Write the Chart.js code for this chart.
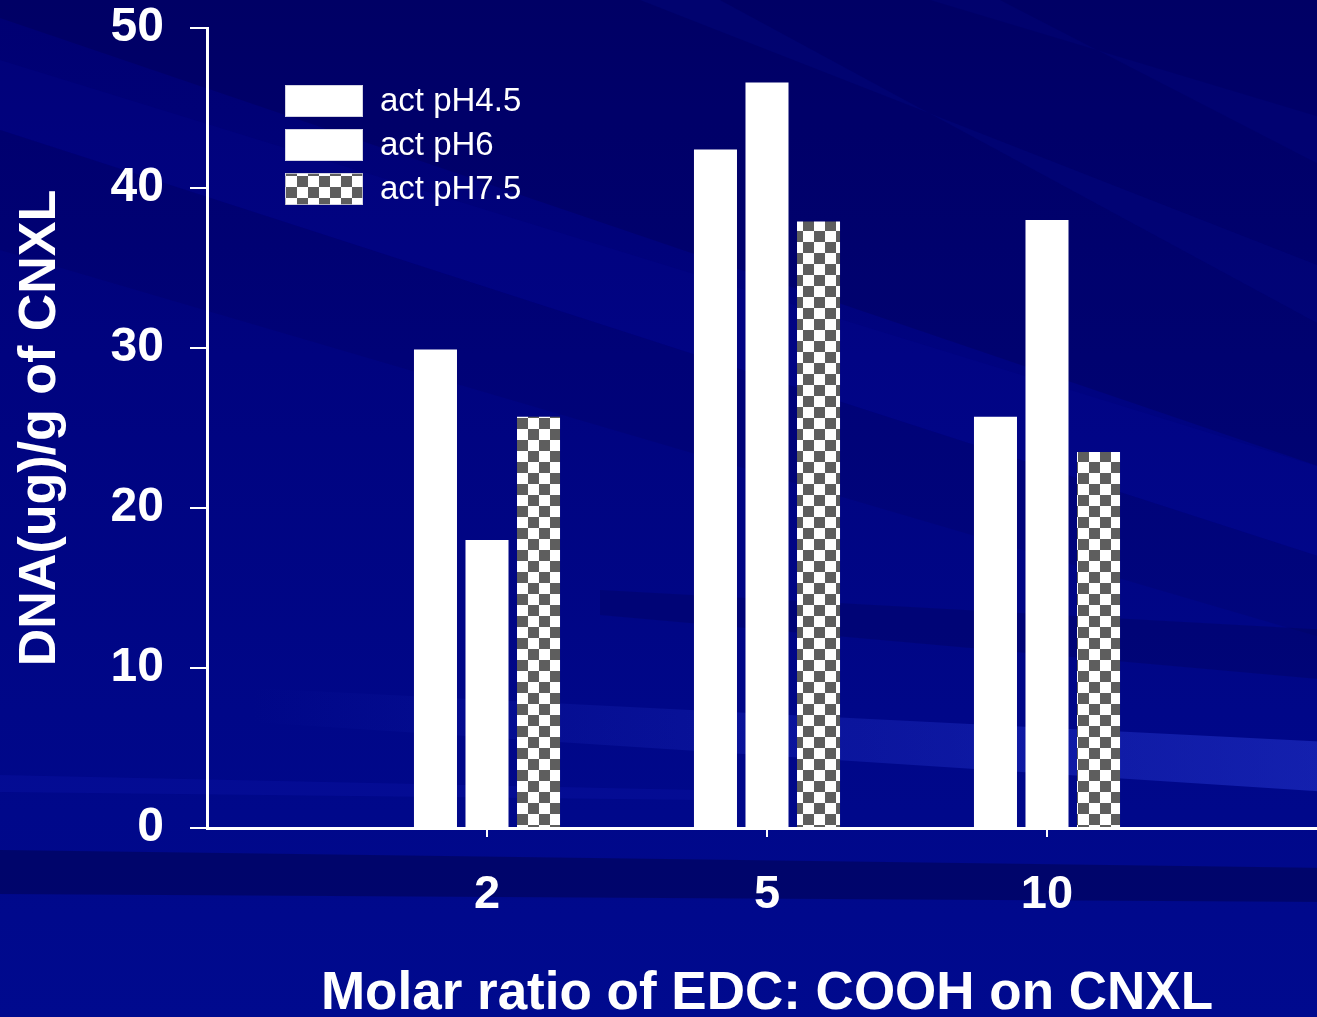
<!DOCTYPE html>
<html>
<head>
<meta charset="utf-8">
<script src="https://cdn.jsdelivr.net/npm/chart.js@4/dist/chart.umd.min.js"></script>
<style>
  html, body { margin: 0; padding: 0; overflow: hidden; background: #000080; }
  #myChart { display: block; }
</style>
</head>
<body>
<canvas id="myChart" width="1330" height="1017"></canvas>
<script>
// data
const categories = ["", "2", "5", "10", ""];
const seriesNames = ["act pH4.5", "act pH6", "act pH7.5"];
const ph45 = [null, 29.9, 42.4, 25.7, null];
const ph6 = [null, 18, 46.6, 38, null];
const ph75 = [null, 25.7, 37.9, 23.5, null];
const yTicks = [0, 10, 20, 30, 40, 50];

const FONT = "Arial, 'Liberation Sans', sans-serif";

function makeChecker() {
  const c = document.createElement("canvas");
  const s = 11;
  c.width = s * 2;
  c.height = s * 2;
  const g = c.getContext("2d");
  g.fillStyle = "#ffffff";
  g.fillRect(0, 0, s * 2, s * 2);
  g.fillStyle = "#5e5e5e";
  g.fillRect(s, 0, s, s);
  g.fillRect(0, s, s, s);
  return g.createPattern(c, "repeat");
}
const checker = makeChecker();

// streaky navy slide background
const backgroundPlugin = {
  id: "slideBg",
  beforeDraw(chart) {
    const c = chart.ctx;
    const w = chart.width, h = chart.height;
    c.save();
    const grad = c.createLinearGradient(0, 0, 0, h);
    grad.addColorStop(0, "#000072");
    grad.addColorStop(0.35, "#00037f");
    grad.addColorStop(0.7, "#000788");
    grad.addColorStop(1, "#000a8e");
    c.fillStyle = grad;
    c.fillRect(0, 0, w, h);

    const poly = (pts, fill) => {
      c.beginPath();
      c.moveTo(pts[0][0], pts[0][1]);
      for (let i = 1; i < pts.length; i++) c.lineTo(pts[i][0], pts[i][1]);
      c.closePath();
      c.fillStyle = fill;
      c.fill();
    };
    poly([[0, 0], [w, 0], [w, 470], [0, 18]], "rgba(0,0,40,0.16)");
    poly([[0, 60], [0, 130], [w, 560], [w, 470]], "rgba(10,20,170,0.12)");
    poly([[640, 0], [720, 0], [w, 330], [w, 270]], "rgba(10,20,170,0.15)");
    poly([[930, 0], [1000, 0], [w, 170], [w, 120]], "rgba(10,20,170,0.12)");
    poly([[0, 130], [0, 250], [w, 640], [w, 560]], "rgba(0,0,50,0.1)");
    poly([[600, 590], [w, 630], [w, 680], [600, 615]], "rgba(0,0,50,0.18)");
    const bright = c.createLinearGradient(250, 0, w, 0);
    bright.addColorStop(0, "rgba(50,70,230,0)");
    bright.addColorStop(1, "rgba(50,70,230,0.4)");
    poly([[250, 688], [w, 742], [w, 792], [250, 722]], bright);
    poly([[0, 775], [700, 790], [700, 800], [0, 792]], "rgba(20,30,190,0.2)");
    poly([[0, 850], [w, 868], [w, 902], [0, 894]], "rgba(0,0,50,0.35)");
    c.restore();
  }
};

// legend drawn inside the plot, top-left
const legendPlugin = {
  id: "insideLegend",
  afterDraw(chart) {
    const c = chart.ctx;
    const x = 285, y0 = 85, rowH = 44, bw = 78, bh = 32;
    c.save();
    chart.data.datasets.forEach((ds, i) => {
      const y = y0 + i * rowH;
      c.fillStyle = ds.backgroundColor;
      c.fillRect(x, y, bw, bh);
      c.strokeStyle = "rgba(200,200,220,0.8)";
      c.lineWidth = 1;
      c.strokeRect(x + 0.5, y + 0.5, bw - 1, bh - 1);
      c.fillStyle = "#ffffff";
      c.font = "33px " + FONT;
      c.textBaseline = "middle";
      c.fillText(ds.label, 380, y + bh / 2 + 1);
    });
    c.restore();
  }
};

new Chart(document.getElementById("myChart").getContext("2d"), {
  type: "bar",
  data: {
    labels: categories,
    datasets: [
      { label: seriesNames[0], data: ph45, backgroundColor: "#ffffff" },
      { label: seriesNames[1], data: ph6, backgroundColor: "#ffffff" },
      { label: seriesNames[2], data: ph75, backgroundColor: checker }
    ]
  },
  options: {
    responsive: false,
    animation: false,
    categoryPercentage: 0.552,
    barPercentage: 0.835,
    layout: { padding: { top: 28, left: 0, right: 3, bottom: 0 } },
    plugins: {
      legend: { display: false },
      tooltip: { enabled: false }
    },
    scales: {
      x: {
        offset: false,
        grid: {
          display: true,
          offset: false,
          drawOnChartArea: false,
          drawTicks: true,
          tickLength: 9,
          lineWidth: 2,
          color: (ctx) => (categories[ctx.index] ? "#ffffff" : "rgba(0,0,0,0)")
        },
        border: { display: true, color: "#ffffff", width: 3 },
        ticks: {
          color: "#ffffff",
          padding: 30,
          maxRotation: 0,
          autoSkip: false,
          font: { family: FONT, size: 47, weight: "bold", lineHeight: 1.2 }
        },
        title: {
          display: true,
          text: "Molar ratio of EDC: COOH on CNXL",
          color: "#ffffff",
          padding: { top: 0, bottom: 0 },
          font: { family: FONT, size: 53, weight: "bold", lineHeight: 0.85 }
        },
        afterFit(scale) {
          scale.height = 189;
          scale.paddingLeft = 0;
          scale.paddingRight = 0;
        }
      },
      y: {
        min: 0,
        max: 50,
        afterBuildTicks(scale) { scale.ticks = yTicks.map((v) => ({ value: v })); },
        grid: {
          display: true,
          drawOnChartArea: false,
          drawTicks: true,
          tickLength: 17,
          lineWidth: 2,
          color: "#ffffff"
        },
        border: { display: true, color: "#ffffff", width: 3 },
        ticks: {
          color: "#ffffff",
          padding: 26,
          font: { family: FONT, size: 48, weight: "bold", lineHeight: 1.1 }
        },
        title: {
          display: true,
          text: "DNA(ug)/g of CNXL",
          color: "#ffffff",
          padding: { top: 9, bottom: 0 },
          font: { family: FONT, size: 52, weight: "bold", lineHeight: 1.2 }
        },
        afterFit(scale) {
          scale.width = 207;
          scale.paddingTop = 0;
          scale.paddingBottom = 0;
        }
      }
    }
  },
  plugins: [backgroundPlugin, legendPlugin]
});
</script>
</body>
</html>
